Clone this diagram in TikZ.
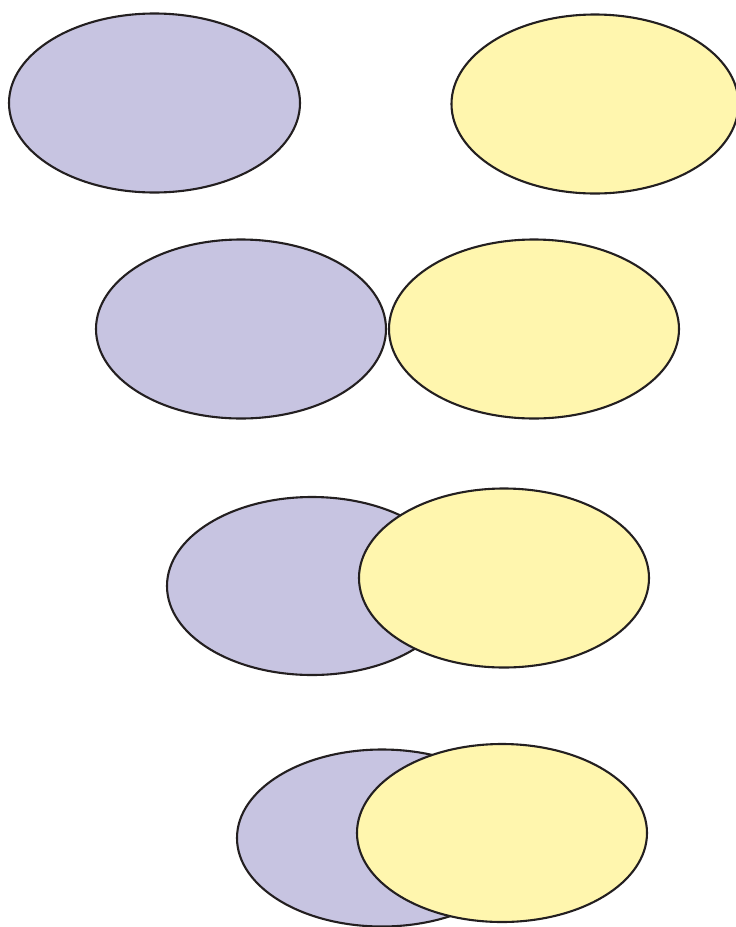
\documentclass[tikz,border=0pt]{standalone}
\begin{document}
\begin{tikzpicture}[x=1pt,y=-1pt,
  lilac/.style={fill={rgb,255:red,199;green,196;blue,225},draw={rgb,255:red,35;green,31;blue,32},line width=2.1pt},
  lemon/.style={fill={rgb,255:red,255;green,246;blue,174},draw={rgb,255:red,35;green,31;blue,32},line width=2.1pt}]
\useasboundingbox (0,0) rectangle (736,927);
\clip (0,0) rectangle (736,927);
% row 1
\draw[lilac] (154.5,103) ellipse [x radius=145.5, y radius=89.5];
\draw[lemon] (595,104) ellipse [x radius=143.5, y radius=89.5];
% row 2
\draw[lilac] (241,329) ellipse [x radius=145, y radius=89.5];
\draw[lemon] (534,329) ellipse [x radius=145, y radius=89.5];
% row 3
\draw[lilac] (312,586) ellipse [x radius=145, y radius=89];
\draw[lemon] (504,578) ellipse [x radius=145, y radius=89.5];
% row 4
\draw[lilac] (382,838) ellipse [x radius=145, y radius=88.5];
\draw[lemon] (502,833) ellipse [x radius=145, y radius=89];
\end{tikzpicture}
\end{document}
